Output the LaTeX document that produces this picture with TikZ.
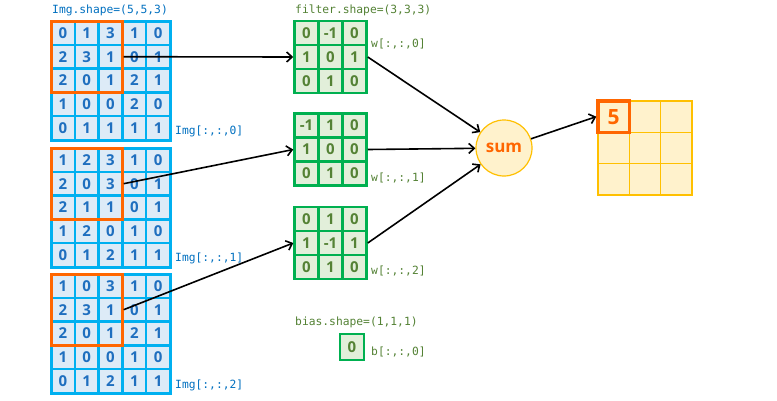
\documentclass[tikz,border=0pt]{standalone}
\usepackage{fontspec}
\setmainfont{Open Sans}
\newfontfamily\monof{DejaVu Sans Mono}
\usetikzlibrary{arrows.meta}
\definecolor{blueb}{HTML}{00B0F0}
\definecolor{bluef}{HTML}{DDEBF7}
\definecolor{bluet}{HTML}{1F6FBF}
\definecolor{bluel}{HTML}{0070C0}
\definecolor{greenb}{HTML}{00B050}
\definecolor{greenf}{HTML}{E2EFDA}
\definecolor{greent}{HTML}{548235}
\definecolor{goldb}{HTML}{FFC000}
\definecolor{goldf}{HTML}{FFF2CC}
\definecolor{orng}{HTML}{FF6600}
\tikzset{
  incell/.style={draw=blueb, fill=bluef, line width=2.5pt, minimum size=23.8pt, inner sep=0pt,
    text=bluet, font=\fontsize{15}{16}\selectfont\bfseries},
  fcell/.style={draw=greenb, fill=greenf, line width=2.5pt, minimum size=24pt, inner sep=0pt,
    text=greent, font=\fontsize{15}{16}\selectfont\bfseries},
  ocell/.style={draw=goldb, fill=goldf, line width=1.3pt, minimum size=31.3pt, inner sep=0pt},
  hcell/.style={draw=orng, line width=3.5pt, minimum size=31.3pt, inner sep=0pt,
    text=orng, font=\fontsize{21}{22}\selectfont\bfseries},
  winbox/.style={draw=orng, line width=3pt},
  bluelab/.style={anchor=west, inner sep=0pt, text=bluel, font=\monof\fontsize{11.3}{12}\selectfont},
  greenlab/.style={anchor=west, inner sep=0pt, text=greent, font=\monof\fontsize{11.3}{12}\selectfont},
  conn/.style={draw=black, line width=1.6pt, -{Straight Barb[length=5.5pt,width=10pt]}},
  sumnode/.style={circle, draw=goldb, fill=goldf, line width=1.2pt, minimum size=56pt, inner sep=0pt,
    text=orng, font=\fontsize{17}{18}\selectfont\bfseries}
}
\newcommand\ingrid[3]{%
  \foreach \row [count=\r] in {#3} {
    \foreach \v [count=\c] in \row {
      \node[incell] (#1-\r-\c) at ({51+(\c-0.5)*23.8},{#2+(\r-0.5)*23.8}) {\v};
    }
  }
  \draw[blueb, line width=3pt] (51,#2) rectangle (170,{#2+119});
  \draw[winbox] (51,#2) rectangle ({51+3*23.8},{#2+3*23.8});
}
\newcommand\fgrid[3]{%
  \foreach \row [count=\r] in {#3} {
    \foreach \v [count=\c] in \row {
      \node[fcell] (#1-\r-\c) at ({294.5+(\c-0.5)*24},{#2+(\r-0.5)*24}) {\v};
    }
  }
}
\begin{document}
\begin{tikzpicture}[x=1pt,y=-1pt]
\useasboundingbox[fill=white] (0,0) rectangle (777,400);

% input channels
\ingrid{IA}{21}{{0,1,3,1,0},{2,3,1,0,1},{2,0,1,2,1},{1,0,0,2,0},{0,1,1,1,1}}
\ingrid{IB}{148}{{1,2,3,1,0},{2,0,3,0,1},{2,1,1,0,1},{1,2,0,1,0},{0,1,2,1,1}}
\ingrid{IC}{274}{{1,0,3,1,0},{2,3,1,0,1},{2,0,1,2,1},{1,0,0,1,0},{0,1,2,1,1}}

\node[bluelab] (limg) at (52,10) {Img.shape=(5,5,3)};
\node[bluelab] (l0) at (175,131) {Img[:,:,0]};
\node[bluelab] (l1) at (175,258) {Img[:,:,1]};
\node[bluelab] (l2) at (175,385) {Img[:,:,2]};

% filters
\fgrid{FA}{21}{{0,-1,0},{1,0,1},{0,1,0}}
\fgrid{FB}{113.5}{{-1,1,0},{1,0,0},{0,1,0}}
\fgrid{FC}{207}{{0,1,0},{1,-1,1},{0,1,0}}

\node[greenlab] (lf) at (295,10) {filter.shape=(3,3,3)};
\node[greenlab] (w0) at (371,44) {w[:,:,0]};
\node[greenlab] (w1) at (371,178) {w[:,:,1]};
\node[greenlab] (w2) at (371,271) {w[:,:,2]};

% bias
\node[greenlab] (lb) at (295,322) {bias.shape=(1,1,1)};
\node[fcell, minimum height=26pt] (B) at (352,347) {0};
\node[greenlab] (b0) at (371,352) {b[:,:,0]};

% sum
\node[sumnode] (S) at (504,148) {sum};

% output
\foreach \r in {1,2,3} {
  \foreach \c in {1,2,3} {
    \node[ocell] (O-\r-\c) at ({598+(\c-0.5)*31.3},{101+(\r-0.5)*31.3}) {};
  }
}
\node[hcell] (H) at (O-1-1) {5};

% connectors
\draw[conn] (IA-2-3.east) -- (FA-2-1.west);
\draw[conn] (IB-2-3.east) -- (FB-2-1.west);
\draw[conn] (IC-2-3.east) -- (FC-2-1.west);
\draw[conn] (FA-2-3.east) -- (S);
\draw[conn] (FB-2-3.east) -- (S);
\draw[conn] (FC-2-3.east) -- (S);
\draw[conn] (S) -- (H.west);
\end{tikzpicture}
\end{document}
